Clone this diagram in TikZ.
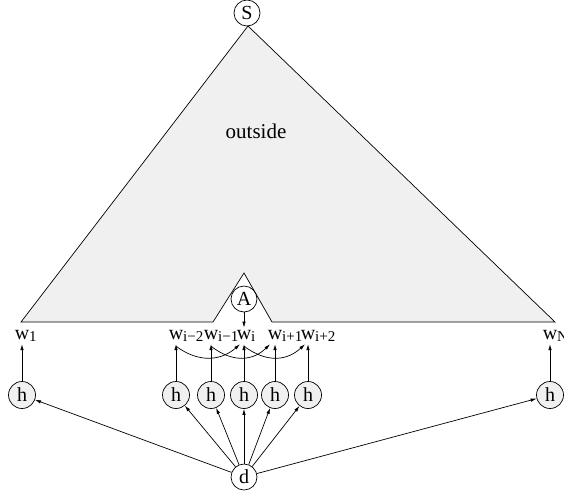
\documentclass[tikz,border=0pt]{standalone}
\usepackage{fontspec}
\setmainfont{Liberation Serif}
\usetikzlibrary{arrows.meta}
\newcommand{\mainsz}{\fontsize{20}{20}\selectfont}
\newcommand{\subsz}{\fontsize{15}{15}\selectfont}
\newcommand{\wlab}[1]{w\rlap{\raisebox{-2pt}{\subsz #1}}}
\tikzset{
  every picture/.style={x=1pt,y=1pt},
  ln/.style={line width=0.7pt},
  arr/.style={ln,-{Latex[length=6pt,width=3.5pt]}},
  circ/.style={draw,circle,ln,minimum size=27pt,inner sep=0pt,font=\mainsz},
  hcirc/.style={circ,fill=gray!12},
  wl/.style={inner sep=0pt,anchor=base,font=\mainsz},
}
\begin{document}
\begin{tikzpicture}
\useasboundingbox (0,0) rectangle (564,-496);
% big triangle with notch
\draw[ln,fill=gray!12] (21,-322) -- (248,-26) -- (555,-322) -- (272,-322) -- (244,-273) -- (213,-322) -- cycle;
\node[circ,minimum size=26pt] (S) at (247,-13) {S};
\node[font=\fontsize{21}{21}\selectfont] (out) at (256,-131) {outside};
\node[circ,minimum size=26pt] (A) at (244,-299) {A};
% words
\node[wl] (w1) at (22,-339) {\wlab{1}};
\node[wl] (wm2) at (176,-339) {\wlab{i−2}};
\node[wl] (wm1) at (211,-339) {\wlab{i−1}};
\node[wl] (wi) at (244,-339) {\wlab{i}};
\node[wl] (wp1) at (275,-339) {\wlab{i+1}};
\node[wl] (wp2) at (308,-339) {\wlab{i+2}};
\node[wl] (wN) at (550,-339) {\wlab{N}};
% h nodes
\node[hcirc] (h1) at (22,-395) {h};
\node[hcirc] (hm2) at (176,-395) {h};
\node[hcirc] (hm1) at (211,-395) {h};
\node[hcirc] (hi) at (244,-395) {h};
\node[hcirc] (hp1) at (275,-395) {h};
\node[hcirc] (hp2) at (308,-395) {h};
\node[hcirc] (hN) at (550,-395) {h};
\node[circ,minimum size=26pt] (d) at (244,-477) {d};
% arrows
\draw[arr] (A) -- ([yshift=2pt]wi.north);
\foreach \n in {1,m2,m1,i,p1,p2,N}{
  \draw[arr] (h\n) -- ([yshift=-3pt]w\n.south);
  \draw[arr] (d) -- (h\n);
}
\draw[arr] ([yshift=-5pt]wm2.south) .. controls (200,-364) and (222,-360) .. ([xshift=-4pt,yshift=-3pt]wi.south);
\draw[arr] ([yshift=-5pt]wm1.south) .. controls (234,-364) and (254,-360) .. ([xshift=-5pt,yshift=-3pt]wp1.south);
\draw[arr] ([yshift=-5pt]wi.south) .. controls (268,-364) and (288,-360) .. ([xshift=-3pt,yshift=-3pt]wp2.south);
\end{tikzpicture}
\end{document}
